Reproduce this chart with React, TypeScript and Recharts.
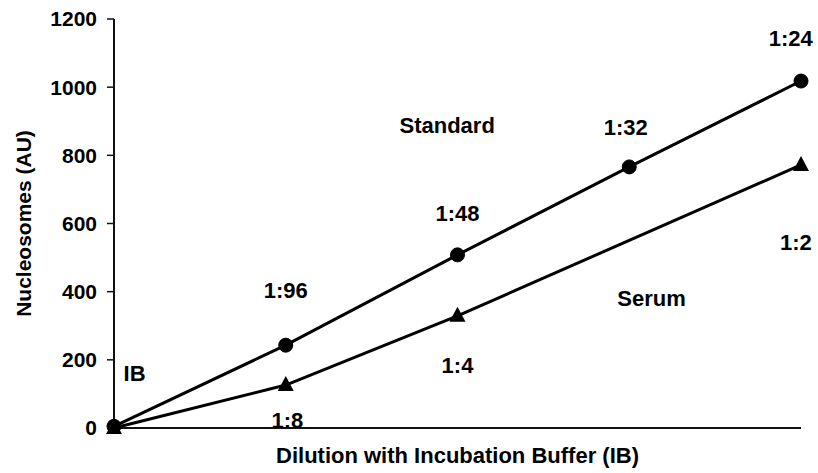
import React from "react";
import {
  LineChart,
  Line,
  XAxis,
  YAxis,
  ReferenceDot,
} from "recharts";

// dilution steps along x (no tick labels on the axis)
const steps = [0, 1, 2, 3, 4];
const standard = [5, 243, 508, 766, 1018];
const serum: (number | null)[] = [0, 126, 329, null, 772];
const yTicks = [0, 200, 400, 600, 800, 1000, 1200];

// text annotations, placed in data units
const noteText = ["IB", "1:96", "1:48", "1:32", "1:24", "Standard", "Serum", "1:8", "1:4", "1:2"];
const noteX = [0.12, 1, 2, 2.98, 3.94, 1.94, 3.13, 1.01, 2, 3.97];
const noteY = [161, 405, 631, 883, 1144, 889, 381, 23, 185, 546];

const data = steps.map((s, i) => ({ step: s, standard: standard[i], serum: serum[i] }));
const notes = noteText.map((t, i) => ({ text: t, x: noteX[i], y: noteY[i] }));

const FONT = "'Liberation Sans', Arial, sans-serif";

const Triangle = (props: any) => {
  const { cx, cy, index } = props;
  if (cx == null || cy == null || props.value == null) return <g key={index} />;
  return (
    <path
      key={index}
      d={`M${cx},${cy - 9} L${cx + 8},${cy + 6} L${cx - 8},${cy + 6} Z`}
      fill="#000"
    />
  );
};

export default function App() {
  return (
    <div style={{ position: "absolute", left: 0, top: 0, background: "#fff" }}>
      <LineChart
        width={818}
        height={473}
        data={data}
        margin={{ top: 19, right: 17, left: 0, bottom: 0 }}
        style={{ fontFamily: FONT }}
      >
        <XAxis
          dataKey="step"
          type="number"
          domain={[0, 4]}
          tick={false}
          tickLine={false}
          height={45}
          axisLine={{ stroke: "#111", strokeWidth: 2 }}
          label={{
            value: "Dilution with Incubation Buffer (IB)",
            position: "insideBottom",
            offset: 10,
            fill: "#000",
            fontSize: 22,
            fontWeight: "bold",
          }}
        />
        <YAxis
          domain={[0, 1200]}
          ticks={yTicks}
          width={114}
          tickSize={7}
          tickLine={{ stroke: "#111", strokeWidth: 1.5 }}
          axisLine={{ stroke: "#111", strokeWidth: 2 }}
          tick={{ fill: "#000", fontSize: 21, fontWeight: "bold" }}
          tickMargin={10}
          label={{
            value: "Nucleosomes (AU)",
            angle: -90,
            position: "insideLeft",
            offset: 24,
            style: { textAnchor: "middle" },
            fill: "#000",
            fontSize: 21,
            fontWeight: "bold",
          }}
        />
        <Line
          dataKey="standard"
          type="linear"
          stroke="#000"
          strokeWidth={3}
          dot={{ r: 7, fill: "#000", stroke: "#000", strokeWidth: 1 }}
          isAnimationActive={false}
        />
        <Line
          dataKey="serum"
          type="linear"
          stroke="#000"
          strokeWidth={3}
          connectNulls
          dot={Triangle}
          isAnimationActive={false}
        />
        {notes.map((n) => (
          <ReferenceDot
            key={n.text}
            x={n.x}
            y={n.y}
            r={0}
            fill="none"
            stroke="none"
            ifOverflow="visible"
            label={{
              value: n.text,
              position: "center",
              fill: "#000",
              fontSize: 22,
              fontWeight: "bold",
            }}
          />
        ))}
      </LineChart>
    </div>
  );
}
